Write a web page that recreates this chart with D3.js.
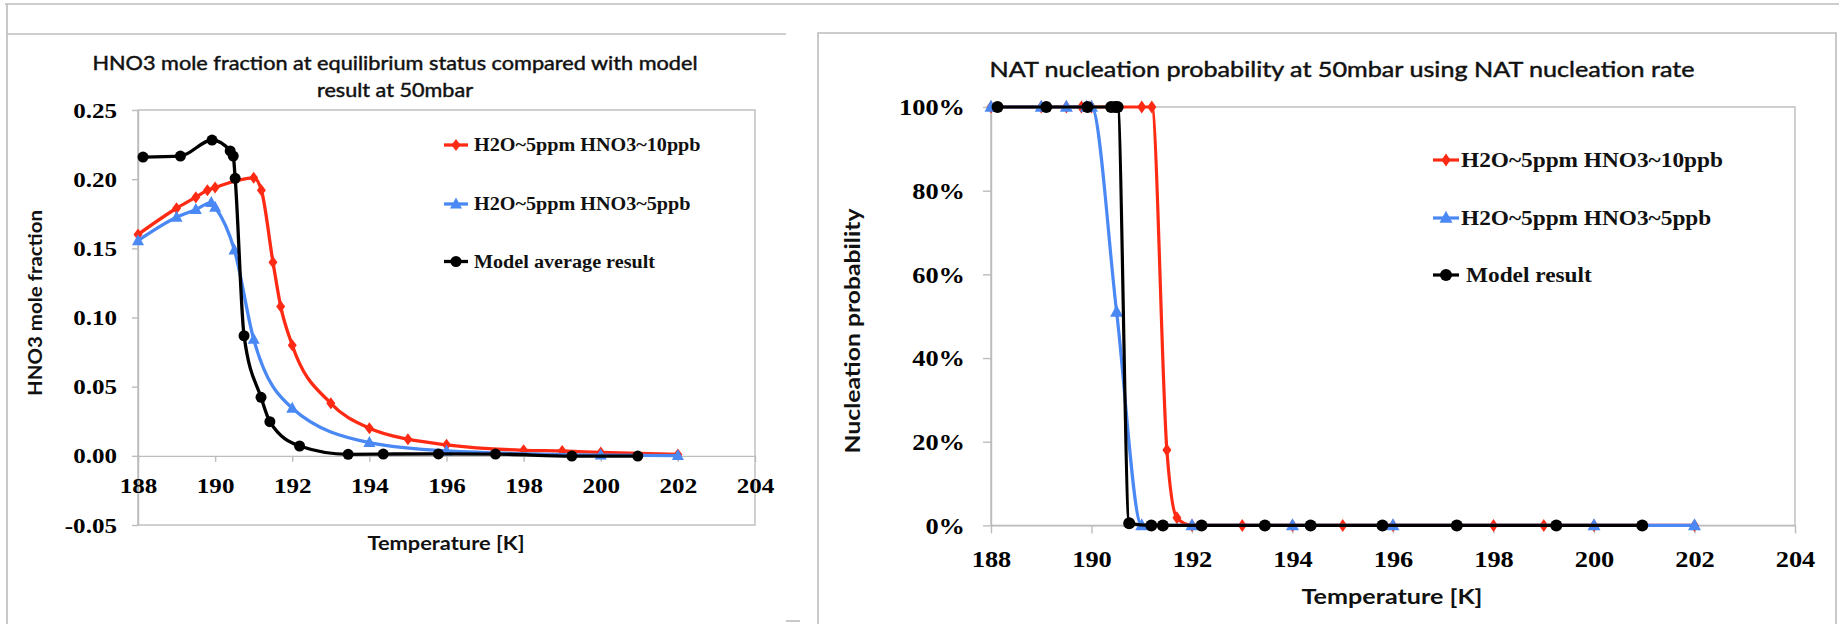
<!DOCTYPE html>
<html>
<head>
<meta charset="utf-8">
<script src="https://cdn.jsdelivr.net/npm/d3@7"></script>
<style>
  html, body { margin: 0; padding: 0; background: #fff; }
  svg { display: block; }
</style>
</head>
<body>
<svg id="chart" width="1839" height="624"></svg>
<script>
// ---- data ---------------------------------------------------------------
const tempTicks = [188, 190, 192, 194, 196, 198, 200, 202, 204];
const fracTicks = [-0.05, 0, 0.05, 0.10, 0.15, 0.20, 0.25];
const probTicks = [0, 0.2, 0.4, 0.6, 0.8, 1.0];

const labelHigh = "H2O~5ppm HNO3~10ppb";
const labelLow = "H2O~5ppm HNO3~5ppb";
const labelModelAvg = "Model average result";
const labelModel = "Model result";

// H2O~5ppm, HNO3~10ppb
const tempHigh = [188, 189, 189.5, 189.8, 190, 191, 191.2, 191.5, 191.7, 192, 193, 194, 195, 196, 198, 199, 200, 202];
const fracHigh = [0.160, 0.179, 0.187, 0.192, 0.194, 0.201, 0.192, 0.140, 0.108, 0.080, 0.038, 0.020, 0.012, 0.008, 0.004, 0.0035, 0.0025, 0.001];
const probHigh = [1, 1, 1, 1, 1, 1, 1, 0.18, 0.018, 0, 0, 0, 0, 0, 0, 0, 0, 0];

// H2O~5ppm, HNO3~5ppb
const tempLow = [188, 189, 189.5, 189.9, 190, 190.5, 191, 192, 194, 196, 200, 202];
const fracLow = [0.1555, 0.1724, 0.178, 0.183, 0.1797, 0.1488, 0.0842, 0.0344, 0.0095, 0.0035, 0.0005, 0.0002];
const probLow = [1, 1, 1, 1, 1, 0.51, 0, 0, 0, 0, 0, 0];

// model
const tempModel = [188.13, 189.1, 189.92, 190.39, 190.47, 190.52, 190.75, 191.19, 191.42, 192.19, 193.45, 194.36, 195.79, 197.27, 199.25, 200.96];
const fracModel = [0.216, 0.2167, 0.2283, 0.2204, 0.2167, 0.2006, 0.0868, 0.0423, 0.0247, 0.0071, 0.0011, 0.0013, 0.0014, 0.0013, -0.0002, -0.0002];
const probModel = [1, 1, 1, 1, 1, 1, 0.005, 0, 0, 0, 0, 0, 0, 0, 0, 0];

// ---- styling --------------------------------------------------------------
const RED = "#ff2a14";
const BLUE = "#4a88f4";
const BLACK = "#000000";
const FRAME = "#bcbcbc";
const SERIF = "'Liberation Serif', 'Times New Roman', serif";
const SANS = "Lato, 'Open Sans', sans-serif";

const svg = d3.select("#chart");

// stretch text horizontally by factor k
function widen(sel, k) {
  sel.each(function () {
    const len = this.getComputedTextLength();
    d3.select(this).attr("textLength", len * k).attr("lengthAdjust", "spacingAndGlyphs");
  });
}

// marker shapes
const diamond = (w, h) => `M0,${-h}L${w},0L0,${h}L${-w},0Z`;
const triangle = (w, h) => `M0,${-h * 0.6}L${w},${h * 0.4}L${-w},${h * 0.4}Z`;
const circle = r => `M${r},0A${r},${r} 0 1,1 ${-r},0A${r},${r} 0 1,1 ${r},0Z`;

// ---- panel outlines -------------------------------------------------------
const outline = svg.append("g").attr("stroke", FRAME).attr("stroke-width", 1.6).attr("fill", "none");
outline.append("path").attr("d", "M5,4H1839");
outline.append("path").attr("d", "M7,4V624");
outline.append("path").attr("d", "M7,34H786");
outline.append("path").attr("d", "M786,621H800");
outline.append("path").attr("d", "M818,624V33H1836V624");

// ---- generic panel ---------------------------------------------------------
function drawPanel(cfg) {
  const g = svg.append("g");
  const x = d3.scaleLinear().domain([tempTicks[0], tempTicks[tempTicks.length - 1]]).range(cfg.xRange);
  const y = d3.scaleLinear().domain(cfg.yDomain).range(cfg.yRange);
  const [x0, x1] = cfg.xRange;
  const [yb, yt] = cfg.yRange;

  // plot frame
  g.append("rect")
    .attr("x", x0).attr("y", yt)
    .attr("width", x1 - x0).attr("height", yb - yt)
    .attr("fill", "none").attr("stroke", FRAME).attr("stroke-width", 1.4);

  // y axis
  const ya = g.append("g")
    .attr("transform", `translate(${x0},0)`)
    .call(d3.axisLeft(y).tickValues(cfg.yTicks).tickFormat(cfg.yFormat)
      .tickSize(cfg.tick).tickPadding(cfg.yPad).tickSizeOuter(0))
    .attr("font-family", SERIF).attr("font-size", cfg.tickFont).attr("font-weight", "bold");
  ya.select(".domain").attr("stroke", FRAME).attr("stroke-width", 1.4);
  ya.selectAll(".tick line").attr("stroke", FRAME).attr("stroke-width", 1.4);
  ya.selectAll(".tick text").attr("fill", "#000").call(widen, cfg.stretch);

  // x axis along zero
  const xa = g.append("g")
    .attr("transform", `translate(0,${y(0)})`)
    .call(d3.axisBottom(x).tickValues(tempTicks).tickFormat(d3.format("d"))
      .tickSize(cfg.tick).tickPadding(cfg.xPad).tickSizeOuter(0))
    .attr("font-family", SERIF).attr("font-size", cfg.tickFont).attr("font-weight", "bold");
  xa.select(".domain").attr("stroke", FRAME).attr("stroke-width", 1.4);
  xa.selectAll(".tick line").attr("stroke", FRAME).attr("stroke-width", 1.4);
  xa.selectAll(".tick text").attr("fill", "#000").call(widen, cfg.stretch);

  // series
  const line = d3.line().x(d => x(d[0])).y(d => y(d[1])).curve(d3.curveMonotoneX);
  cfg.series.forEach(s => {
    const pts = d3.zip(s.t, s.v);
    g.append("path").datum(pts)
      .attr("d", line).attr("fill", "none")
      .attr("stroke", s.color).attr("stroke-width", cfg.lineWidth)
      .attr("stroke-linejoin", "round");
    g.append("g").selectAll("path").data(pts).join("path")
      .attr("transform", d => `translate(${x(d[0])},${y(d[1])})`)
      .attr("d", s.marker).attr("fill", s.color);
  });

  // legend
  cfg.series.forEach((s, i) => {
    const ly = cfg.legendY[i];
    const [lx0, lx1] = cfg.legendLine;
    g.append("line").attr("x1", lx0).attr("x2", lx1).attr("y1", ly).attr("y2", ly)
      .attr("stroke", s.color).attr("stroke-width", cfg.lineWidth);
    g.append("path").attr("transform", `translate(${(lx0 + lx1) / 2},${ly})`)
      .attr("d", s.marker).attr("fill", s.color);
    g.append("text").attr("x", cfg.legendTextX[i]).attr("y", ly).attr("dy", "0.34em")
      .attr("font-family", SERIF).attr("font-weight", "bold").attr("font-size", cfg.legendFont)
      .attr("fill", "#111").text(s.name).call(widen, cfg.legendStretch);
  });

  // titles
  cfg.title.forEach(t => {
    g.append("text").attr("x", t.x).attr("y", t.y).attr("dy", "0.35em")
      .attr("text-anchor", "middle").attr("font-family", SANS).attr("font-size", cfg.titleFont)
      .attr("fill", "#111").attr("stroke", "#111").attr("stroke-width", 0.45)
      .attr("textLength", t.w).attr("lengthAdjust", "spacingAndGlyphs")
      .text(t.text);
  });
  g.append("text").attr("x", cfg.xTitle.x).attr("y", cfg.xTitle.y).attr("dy", "0.35em")
    .attr("text-anchor", "middle").attr("font-family", SANS).attr("font-weight", "bold")
    .attr("font-size", cfg.axisFont).attr("fill", "#111")
    .attr("textLength", cfg.xTitle.w).attr("lengthAdjust", "spacingAndGlyphs")
    .text("Temperature [K]");
  g.append("text").attr("transform", `translate(${cfg.yTitle.x},${cfg.yTitle.y}) rotate(-90)`)
    .attr("dy", "0.35em").attr("text-anchor", "middle").attr("font-family", SANS)
    .attr("font-weight", "bold").attr("font-size", cfg.axisFont).attr("fill", "#111")
    .attr("textLength", cfg.yTitle.w).attr("lengthAdjust", "spacingAndGlyphs")
    .text(cfg.yTitle.text);
}

// ---- left: HNO3 mole fraction ------------------------------------------------
drawPanel({
  xRange: [138, 755],
  yDomain: [fracTicks[0], fracTicks[fracTicks.length - 1]],
  yRange: [525, 110],
  yTicks: fracTicks,
  yFormat: d => d.toFixed(2),
  tick: 6, yPad: 15, xPad: 16,
  tickFont: 22, stretch: 1.14,
  lineWidth: 3.3,
  series: [
    { name: labelHigh, t: tempHigh, v: fracHigh, color: RED, marker: diamond(4.5, 6) },
    { name: labelLow, t: tempLow, v: fracLow, color: BLUE, marker: triangle(6, 11) },
    { name: labelModelAvg, t: tempModel, v: fracModel, color: BLACK, marker: circle(5.5) }
  ],
  legendY: [145, 204, 261.5],
  legendLine: [444, 468],
  legendTextX: [474, 474, 474],
  legendFont: 18, legendStretch: 1.12,
  titleFont: 19,
  title: [
    { text: "HNO3 mole fraction at equilibrium status compared with model", x: 395, y: 63, w: 605 },
    { text: "result at 50mbar", x: 395, y: 90, w: 156 }
  ],
  axisFont: 19,
  xTitle: { x: 446, y: 543, w: 157 },
  yTitle: { text: "HNO3 mole fraction", x: 35, y: 303, w: 186 }
});

// ---- right: nucleation probability -------------------------------------------
drawPanel({
  xRange: [991, 1795],
  yDomain: [0, 1],
  yRange: [525.4, 107],
  yTicks: probTicks,
  yFormat: d3.format(".0%"),
  tick: 8, yPad: 18, xPad: 17,
  tickFont: 24, stretch: 1.1,
  lineWidth: 3.2,
  series: [
    { name: labelHigh, t: tempHigh, v: probHigh, color: RED, marker: diamond(4.5, 6.5) },
    { name: labelLow, t: tempLow, v: probLow, color: BLUE, marker: triangle(6.5, 12) },
    { name: labelModel, t: tempModel, v: probModel, color: BLACK, marker: circle(6) }
  ],
  legendY: [160, 218, 275],
  legendLine: [1433, 1459],
  legendTextX: [1461, 1461, 1466],
  legendFont: 21, legendStretch: 1.11,
  titleFont: 21,
  title: [
    { text: "NAT nucleation probability at 50mbar using NAT nucleation rate", x: 1342, y: 70, w: 705 }
  ],
  axisFont: 21,
  xTitle: { x: 1392, y: 597, w: 181 },
  yTitle: { text: "Nucleation probability", x: 853, y: 331, w: 245 }
});
</script>
</body>
</html>
